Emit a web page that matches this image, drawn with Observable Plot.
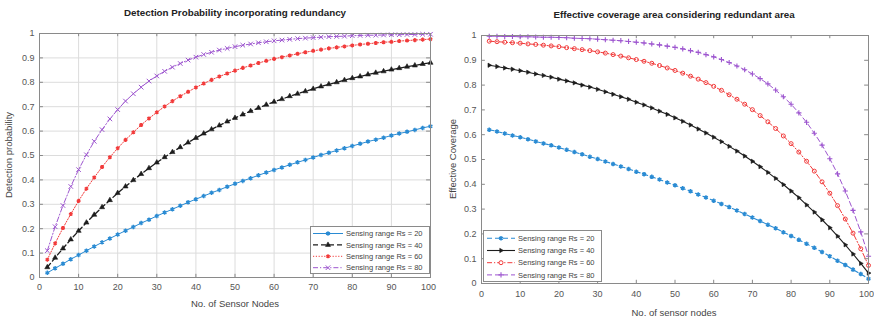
<!DOCTYPE html>
<html>
<head>
<meta charset="utf-8">
<script src="https://cdn.jsdelivr.net/npm/d3@7"></script>
<script src="https://cdn.jsdelivr.net/npm/@observablehq/plot@0.6"></script>
<style>
  html, body { margin: 0; padding: 0; background: #fff; }
  #root { position: relative; width: 874px; height: 322px; overflow: hidden; font-family: "Liberation Sans", Arial, sans-serif; }
  .panel { position: absolute; top: 0; }
  .title { position: absolute; font-weight: bold; font-size: 9.8px; color: #222; white-space: nowrap; transform: translate(-50%, -50%); }
  .xlabel { position: absolute; font-size: 9.5px; color: #444; white-space: nowrap; transform: translate(-50%, -50%); }
  .ylabel { position: absolute; font-size: 9.5px; color: #444; white-space: nowrap; transform: translate(-50%, -50%) rotate(-90deg); }
  .legend { position: absolute; }
</style>
</head>
<body>
<div id="root"></div>
<script>
// ---------- data ----------
const xNodes = [2,4,6,8,10,12,14,16,18,20,22,24,26,28,30,32,34,36,38,40,42,44,46,48,50,
                52,54,56,58,60,62,64,66,68,70,72,74,76,78,80,82,84,86,88,90,92,94,96,98,100];

const seriesLabels = ["Sensing range Rs = 20","Sensing range Rs = 40","Sensing range Rs = 60","Sensing range Rs = 80"];

// Left: detection probability
const detBlue = [0.019,0.038,0.056,0.075,0.092,0.110,0.127,0.144,0.160,0.176,
                 0.192,0.207,0.223,0.237,0.252,0.266,0.280,0.294,0.308,0.321,
                 0.334,0.347,0.359,0.372,0.384,0.396,0.407,0.419,0.430,0.441,
                 0.451,0.462,0.472,0.482,0.492,0.502,0.511,0.521,0.530,0.539,
                 0.548,0.557,0.565,0.573,0.582,0.590,0.597,0.605,0.613,0.620];
const detBlack = [0.042,0.081,0.119,0.156,0.191,0.225,0.257,0.288,0.317,0.346,
                  0.373,0.399,0.424,0.448,0.471,0.493,0.514,0.534,0.553,0.572,
                  0.590,0.607,0.623,0.639,0.654,0.668,0.682,0.695,0.708,0.720,
                  0.731,0.743,0.753,0.763,0.773,0.783,0.792,0.800,0.809,0.817,
                  0.824,0.832,0.839,0.845,0.852,0.858,0.864,0.869,0.875,0.880];
const detRed = [0.073,0.140,0.203,0.260,0.314,0.364,0.410,0.453,0.493,0.530,
                0.564,0.595,0.625,0.652,0.677,0.701,0.723,0.743,0.761,0.779,
                0.795,0.810,0.824,0.836,0.848,0.859,0.869,0.879,0.888,0.896,
                0.903,0.910,0.917,0.923,0.929,0.934,0.939,0.943,0.947,0.951,
                0.955,0.958,0.961,0.964,0.966,0.969,0.971,0.973,0.975,0.977];
const detPurple = [0.110,0.208,0.295,0.373,0.442,0.503,0.558,0.606,0.650,0.688,
                   0.723,0.753,0.780,0.805,0.826,0.845,0.862,0.877,0.891,0.903,
                   0.914,0.923,0.932,0.939,0.946,0.952,0.957,0.962,0.966,0.970,
                   0.973,0.976,0.979,0.981,0.983,0.985,0.987,0.988,0.989,0.991,
                   0.992,0.993,0.993,0.994,0.995,0.995,0.996,0.996,0.997,0.997];

// Right: effective coverage
const covBlue = [0.620,0.613,0.605,0.597,0.590,0.582,0.573,0.565,0.557,0.548,
                 0.539,0.530,0.521,0.511,0.502,0.492,0.482,0.472,0.462,0.451,
                 0.441,0.430,0.419,0.407,0.396,0.384,0.372,0.359,0.347,0.334,
                 0.321,0.308,0.294,0.280,0.266,0.252,0.237,0.223,0.207,0.192,
                 0.176,0.160,0.144,0.127,0.110,0.092,0.075,0.056,0.038,0.019];
const covBlack = [0.880,0.875,0.869,0.864,0.858,0.852,0.845,0.839,0.832,0.824,
                  0.817,0.809,0.800,0.792,0.783,0.773,0.763,0.753,0.743,0.731,
                  0.720,0.708,0.695,0.682,0.668,0.654,0.639,0.623,0.607,0.590,
                  0.572,0.553,0.534,0.514,0.493,0.471,0.448,0.424,0.399,0.373,
                  0.346,0.317,0.288,0.257,0.225,0.191,0.156,0.119,0.081,0.042];
const covRed = [0.977,0.975,0.973,0.971,0.969,0.966,0.964,0.961,0.958,0.955,
                0.951,0.947,0.943,0.939,0.934,0.929,0.923,0.917,0.910,0.903,
                0.896,0.888,0.879,0.869,0.859,0.848,0.836,0.824,0.810,0.795,
                0.779,0.761,0.743,0.723,0.701,0.677,0.652,0.625,0.595,0.564,
                0.530,0.493,0.453,0.410,0.364,0.314,0.260,0.203,0.140,0.073];
const covPurple = [0.997,0.997,0.996,0.996,0.995,0.995,0.994,0.993,0.993,0.992,
                   0.991,0.989,0.988,0.987,0.985,0.983,0.981,0.979,0.976,0.973,
                   0.970,0.966,0.962,0.957,0.952,0.946,0.939,0.932,0.923,0.914,
                   0.903,0.891,0.877,0.862,0.845,0.826,0.805,0.780,0.753,0.723,
                   0.688,0.650,0.606,0.558,0.503,0.442,0.373,0.295,0.208,0.110];

const xTicks = [0,10,20,30,40,50,60,70,80,90,100];
const xTickLabels = ["0","10","20","30","40","50","60","70","80","90","100"];
const yTicks = [0,0.1,0.2,0.3,0.4,0.5,0.6,0.7,0.8,0.9,1];
const yTickLabels = ["0","0.1","0.2","0.3","0.4","0.5","0.6","0.7","0.8","0.9","1"];

// ---------- styles ----------
const C_BLUE = "#2a8bd3", C_BLACK = "#1c1c1c", C_RED = "#f23a3a", C_PURPLE = "#9d55cf";
const FONT = "'Liberation Sans', Arial, sans-serif";

const leftStyles = [
  {color: C_BLUE,   dash: null,        width: 1,   symbol: "asterisk", r: 2.1, fill: false, sw: 1.4},
  {color: C_BLACK,  dash: "5,3",       width: 1.3, symbol: "triangle", r: 1.9, fill: true,  sw: 0.6},
  {color: C_RED,    dash: "1.2,1.6",   width: 1,   symbol: "asterisk", r: 1.9, fill: false, sw: 1.5},
  {color: C_PURPLE, dash: "5,2,1.2,2", width: 1,   symbol: "times",    r: 2.2, fill: false, sw: 1}
];
const rightStyles = [
  {color: C_BLUE,   dash: "5,3",       width: 1.1, symbol: "asterisk", r: 2.1, fill: false, sw: 1.5},
  {color: C_BLACK,  dash: null,        width: 1.1, symbol: "triangle", r: 1.6, fill: true,  sw: 0.6, rotate: 90},
  {color: C_RED,    dash: "5,2,1.2,2", width: 1,   symbol: "circle",   r: 2,   fill: false, sw: 1},
  {color: C_PURPLE, dash: "5,3",       width: 1,   symbol: "plus",     r: 1.8, fill: false, sw: 1.1}
];

function rows(vals) { return vals.map((v, i) => ({x: xNodes[i], y: v})); }

function seriesMarks(vals, s) {
  const data = rows(vals);
  return [
    Plot.line(data, {x: "x", y: "y", stroke: s.color, strokeWidth: s.width, strokeDasharray: s.dash || undefined}),
    Plot.dot(data, {x: "x", y: "y", symbol: s.symbol, r: s.r,
      fill: s.fill ? s.color : "none", stroke: s.color, strokeWidth: s.sw, rotate: s.rotate || 0})
  ];
}

function panel(opts) {
  const {width, height, ml, mr, mt, mb, series, styles, grid, xPad} = opts;
  const marks = [];
  if (grid) {
    marks.push(Plot.gridX(xTicks, {stroke: "#dcdcdc", strokeOpacity: 1}));
    marks.push(Plot.gridY(yTicks, {stroke: "#dcdcdc", strokeOpacity: 1}));
  }
  marks.push(Plot.ruleX(xTicks, {x: d => d, y1: 0, y2: 0.013, stroke: "#888"}));
  marks.push(Plot.ruleX(xTicks, {x: d => d, y1: 1, y2: 0.987, stroke: "#888"}));
  marks.push(Plot.ruleY(yTicks, {y: d => d, x1: 0, x2: 1, stroke: "#888"}));
  marks.push(Plot.ruleY(yTicks, {y: d => d, x1: 100, x2: 99, stroke: "#888"}));
  series.forEach((vals, i) => marks.push(...seriesMarks(vals, styles[i])));
  marks.push(Plot.frame({stroke: "#8a8a8a"}));
  const fmtX = d => xTickLabels[xTicks.indexOf(d)];
  marks.push(Plot.axisX({ticks: xTicks.slice(0, -1), tickFormat: fmtX, tickSize: 0, tickPadding: xPad, label: null}));
  marks.push(Plot.axisX({ticks: xTicks.slice(-1), tickFormat: fmtX, tickSize: 0, tickPadding: xPad, label: null, dx: -2}));
  marks.push(Plot.axisY({ticks: yTicks, tickFormat: d => yTickLabels[yTicks.indexOf(d)], tickSize: 0, tickPadding: 5, label: null}));
  return Plot.plot({
    width, height, marginLeft: ml, marginRight: mr, marginTop: mt, marginBottom: mb,
    x: {domain: [0, 100], label: null},
    y: {domain: [0, 1], label: null},
    style: {fontFamily: FONT, fontSize: "9px", color: "#555", background: "transparent", overflow: "visible"},
    marks
  });
}

function legend(styles, opts) {
  const {w, h, rowY0, rowStep, lineX0, lineX1, textX, fontSize} = opts;
  const svg = d3.create("svg").attr("width", w).attr("height", h).style("overflow", "visible");
  svg.append("rect").attr("x", 0.5).attr("y", 0.5).attr("width", w - 1).attr("height", h - 1)
     .attr("fill", "#fff").attr("stroke", "#8a8a8a");
  const symMap = {asterisk: d3.symbolAsterisk, triangle: d3.symbolTriangle, times: d3.symbolTimes, circle: d3.symbolCircle, plus: d3.symbolPlus};
  styles.forEach((s, i) => {
    const y = rowY0 + i * rowStep;
    svg.append("line").attr("x1", lineX0).attr("x2", lineX1).attr("y1", y).attr("y2", y)
       .attr("stroke", s.color).attr("stroke-width", s.width).attr("stroke-dasharray", s.dash || null);
    const mx = (lineX0 + lineX1) / 2;
    svg.append("path").attr("d", d3.symbol(symMap[s.symbol], Math.PI * s.r * s.r)())
       .attr("transform", `translate(${mx},${y}) rotate(${s.rotate || 0})`)
       .attr("fill", s.fill ? s.color : (s.symbol === "circle" ? "#fff" : "none"))
       .attr("stroke", s.color).attr("stroke-width", s.sw);
    svg.append("text").attr("x", textX).attr("y", y).attr("dy", "0.35em")
       .attr("font-family", FONT).attr("font-size", fontSize).attr("fill", "#444").text(seriesLabels[i]);
  });
  return svg.node();
}

const root = document.getElementById("root");
function addDiv(cls, text, x, y) {
  const d = document.createElement("div");
  d.className = cls; d.textContent = text;
  d.style.left = x + "px"; d.style.top = y + "px";
  root.appendChild(d); return d;
}

// Left panel
const leftWrap = document.createElement("div");
leftWrap.className = "panel"; leftWrap.style.left = "0px";
leftWrap.appendChild(panel({width: 440, height: 322, ml: 39, mr: 10, mt: 33, mb: 45,
  series: [detBlue, detBlack, detRed, detPurple], styles: leftStyles, grid: true, xPad: 6}));
root.appendChild(leftWrap);

// Right panel
const rightWrap = document.createElement("div");
rightWrap.className = "panel"; rightWrap.style.left = "440px";
rightWrap.appendChild(panel({width: 434, height: 322, ml: 41, mr: 6, mt: 35, mb: 39,
  series: [covBlue, covBlack, covRed, covPurple], styles: rightStyles, grid: false, xPad: 7}));
root.appendChild(rightWrap);

// Titles and axis labels
addDiv("title", "Detection Probability incorporating redundancy", 235, 12);
addDiv("title", "Effective coverage area considering redundant area", 674, 14);
addDiv("xlabel", "No. of Sensor Nodes", 235, 303);
addDiv("xlabel", "No. of sensor nodes", 674, 312);
addDiv("ylabel", "Detection probability", 8, 155);
addDiv("ylabel", "Effective Coverage", 452, 159);

// Legends
const lg1 = document.createElement("div"); lg1.className = "legend";
lg1.style.left = "310px"; lg1.style.top = "226px";
lg1.appendChild(legend(leftStyles, {w: 120, h: 48, rowY0: 7.5, rowStep: 11.4, lineX0: 3, lineX1: 33, textX: 36, fontSize: "7.5px"}));
root.appendChild(lg1);

const lg2 = document.createElement("div"); lg2.className = "legend";
lg2.style.left = "483px"; lg2.style.top = "230px";
lg2.appendChild(legend(rightStyles, {w: 119, h: 52, rowY0: 8.3, rowStep: 12.2, lineX0: 4, lineX1: 32, textX: 35, fontSize: "7.5px"}));
root.appendChild(lg2);
</script>
</body>
</html>
